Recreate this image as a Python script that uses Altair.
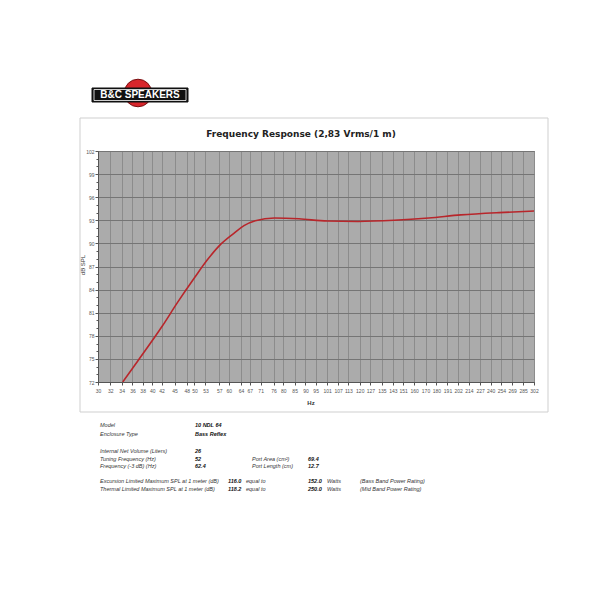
import altair as alt
import pandas as pd

# ---- data ----
freq_hz = [34.2, 37.0, 42.1, 45.8, 50.1, 53.6, 57.5, 61.9, 65.0, 69.0, 76.4, 87.0,
           101.0, 119.0, 144.0, 173.0, 205.0, 251.0, 302.0]
spl_db = [72.0, 74.7, 79.2, 82.4, 85.6, 87.9, 89.9, 91.4, 92.3, 92.95, 93.3, 93.2,
          92.9, 92.85, 93.0, 93.3, 93.7, 94.0, 94.2]

x_tick_values = [30, 32, 34, 36, 38, 40, 42, 45, 48, 50, 53, 57, 60, 64, 67, 71, 76, 80,
                 85, 90, 95, 101, 107, 113, 120, 127, 135, 143, 151, 160, 170, 180, 191,
                 202, 214, 227, 240, 254, 269, 285, 302]
y_tick_values = list(range(72, 103))

title_text = "Frequency Response (2,83 Vrms/1 m)"
x_title = "Hz"
y_title = "dB SPL"
logo_text = "B&C SPEAKERS"

spec_labels_a = ["Model", "Enclosure Type"]
spec_values_a = ["10 NDL 64", "Bass Reflex"]
spec_labels_b = ["Internal Net Volume (Liters)", "Tuning Frequency (Hz)", "Frequency (-3 dB) (Hz)"]
spec_values_b = ["26", "52", "62.4"]
port_labels = ["Port Area (cm²)", "Port Length (cm)"]
port_values = ["69.4", "12.7"]
spl_labels = ["Excursion Limited Maximum SPL at 1 meter (dB)", "Thermal Limited Maximum SPL at 1 meter (dB)"]
spl_values = ["116.0", "118.2"]
watt_values = ["152.0", "250.0"]
rating_labels = ["(Bass Band Power Rating)", "(Mid Band Power Rating)"]

# ---- chart ----
W, H = 436, 231
FONT = "Liberation Sans"

df = pd.DataFrame({"freq": freq_hz, "spl": spl_db})
one = pd.DataFrame({"d": [0]})

x_enc = alt.X("freq:Q",
              scale=alt.Scale(type="log", domain=[30, 302], nice=False),
              axis=alt.Axis(values=x_tick_values, title=None, labelExpr="datum.value",
                            labelFontSize=5, labelColor="#555", labelFont=FONT,
                            labelPadding=3, tickSize=3, tickColor="#555",
                            gridColor="#8c8c8c", gridWidth=1, domainColor="#555",
                            labelOverlap=False, labelFlush=False))
y_enc = alt.Y("spl:Q",
              scale=alt.Scale(domain=[72, 102], nice=False, zero=False),
              axis=alt.Axis(values=y_tick_values, title=None,
                            labelExpr="datum.value % 3 == 0 ? datum.label : ''",
                            labelFontSize=5, labelColor="#555", labelFont=FONT,
                            labelPadding=1,
                            tickSize={"condition": {"test": "datum.value % 3 == 0", "value": 3}, "value": 2},
                            tickColor="#555",
                            gridOpacity={"condition": {"test": "datum.value % 3 == 0", "value": 1}, "value": 0},
                            gridColor="#757575", gridWidth=1, domainColor="#555"))

curve = alt.Chart(df).mark_line(color="#b8262b", strokeWidth=1.6, interpolate="monotone",
                                clip=True).encode(x=x_enc, y=y_enc)

frame = alt.Chart(one).mark_rect(fillOpacity=0, stroke="#cfcfcf", strokeWidth=1).encode(
    x=alt.value(-18), x2=alt.value(450), y=alt.value(-33), y2=alt.value(261))

def txt(t, x, y, size=5.5, bold=False, italic=True, align="left", color="#333", angle=0, font=FONT):
    kw = dict(text=t, fontSize=size, align=align, baseline="middle", color=color, font=font,
              fontWeight="bold" if bold else "normal", fontStyle="italic" if italic else "normal")
    if angle:
        kw["angle"] = angle
    return alt.Chart(one).mark_text(**kw).encode(x=alt.value(x), y=alt.value(y))

layers = [frame, curve]
layers.append(txt(title_text, 203, -17, size=9, bold=True, italic=False, align="center",
                  color="#222", font="DejaVu Sans"))
layers.append(txt(y_title, -15, 114, size=6, italic=False, align="center", color="#333", angle=270))
layers.append(txt(x_title, 213, 252, size=6, bold=True, italic=False, align="center", color="#333"))

# logo
layers.append(alt.Chart(one).mark_point(shape="circle", filled=True, size=760, color="#d8262c",
                                        stroke="#7a0e10", strokeWidth=1, opacity=1).encode(
    x=alt.value(40), y=alt.value(-58)))
layers.append(alt.Chart(one).mark_rect(color="#111", stroke="#111", strokeWidth=1).encode(
    x=alt.value(-6), x2=alt.value(90), y=alt.value(-63), y2=alt.value(-49)))
layers.append(alt.Chart(one).mark_rect(fillOpacity=0, stroke="#ffffff", strokeWidth=0.8).encode(
    x=alt.value(-4), x2=alt.value(88), y=alt.value(-61.5), y2=alt.value(-50.5)))
layers.append(txt(logo_text, 42, -55.8, size=10, bold=True, italic=False, align="center",
                  color="#ffffff", font="Liberation Sans"))

# spec table
rows_a = [274, 283]
rows_b = [299.5, 307.5, 315]
rows_c = [330, 337.5]
for i, y in enumerate(rows_a):
    layers.append(txt(spec_labels_a[i], 2, y))
    layers.append(txt(spec_values_a[i], 97, y, bold=True, color="#111"))
for i, y in enumerate(rows_b):
    layers.append(txt(spec_labels_b[i], 2, y))
    layers.append(txt(spec_values_b[i], 97, y, bold=True, color="#111"))
for i, y in enumerate(rows_b[1:]):
    layers.append(txt(port_labels[i], 154, y))
    layers.append(txt(port_values[i], 210, y, bold=True, color="#111"))
for i, y in enumerate(rows_c):
    layers.append(txt(spl_labels[i], 2, y))
    layers.append(txt(spl_values[i], 130, y, bold=True, color="#111"))
    layers.append(txt("equal to", 148, y))
    layers.append(txt(watt_values[i], 210, y, bold=True, color="#111"))
    layers.append(txt("Watts", 229, y))
    layers.append(txt(rating_labels[i], 262, y))

chart = alt.layer(*layers).properties(
    width=W, height=H,
    padding={"left": 90, "top": 143, "right": 40, "bottom": 180},
    autosize=alt.AutoSizeParams(type="none"),
    background="white",
).configure_view(fill="#ababab", stroke="#6f6f6f", strokeWidth=1)

chart.save("out.html", embed_options={"renderer": "svg", "actions": False})
